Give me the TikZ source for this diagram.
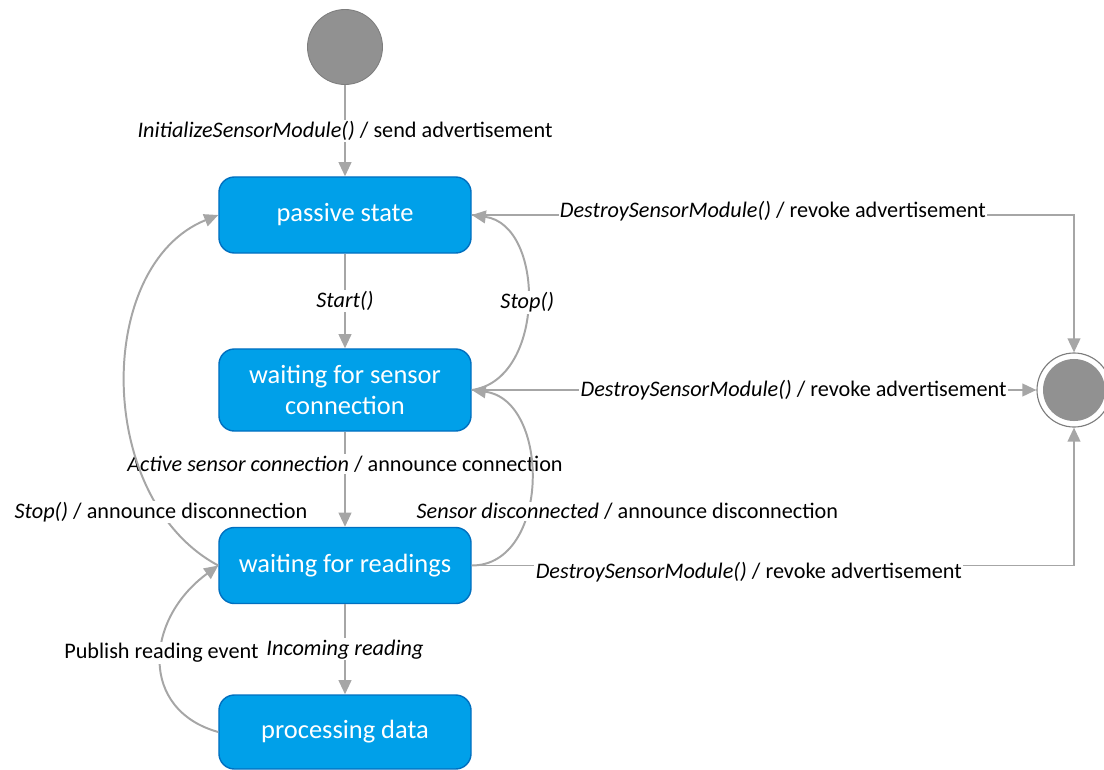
\documentclass[tikz,border=0pt]{standalone}
\usepackage{fontspec}
\setmainfont{Carlito}
\usetikzlibrary{arrows.meta,positioning,calc}
\definecolor{statefill}{RGB}{0,160,233}
\definecolor{stateline}{RGB}{0,112,192}
\definecolor{flowgray}{RGB}{166,166,166}
\definecolor{dotgray}{RGB}{145,145,145}
\definecolor{ringgray}{RGB}{125,125,125}

\begin{document}
\begin{tikzpicture}[x=0.025cm,y=-0.025cm,>={Triangle[length=10pt,width=9pt]},
 state/.style={draw=stateline,line width=1pt,fill=statefill,rounded corners=11pt,
   minimum width=6.3cm,minimum height=1.9cm,text=white,align=center,
   font=\fontsize{18.8}{21.5}\selectfont},
 flow/.style={draw=flowgray,line width=1.4pt,->},
 lbl/.style={fill=white,inner sep=1pt,font=\fontsize{15.8}{18}\selectfont},
 dot/.style={circle,fill=dotgray,draw=ringgray,line width=0.6pt}]
 \useasboundingbox (0,0) rectangle (1104,769);
 % states
 \node[dot,minimum size=1.875cm] (init) at (345,47) {};
 \node[state] (passive) at (345,215) {passive state};
 \node[state,minimum height=2.05cm] (sensor) at (345,390) {waiting for sensor\\connection};
 \node[state] (readings) at (345,565.5) {waiting for readings};
 \node[state,minimum height=1.85cm] (processing) at (345,732) {processing data};
 \node[circle,draw=ringgray,line width=0.8pt,minimum size=1.85cm] (final) at (1074,390) {};
 \node[dot,draw=none,minimum size=1.55cm] (finaldot) at (final) {};
 % transitions
 \draw[flow] (init) -- (passive) node[lbl,midway] {\textit{InitializeSensorModule()} / send advertisement};
 \draw[flow] (passive) -- (sensor) node[lbl,midway] {\textit{Start()}};
 \draw[flow] (sensor.east) .. controls +(74,-10) and +(74,10) .. (passive.east) node[lbl,midway] {\textit{Stop()}};
 \draw[flow] (passive.east) -| (final.north) node[lbl,pos=0.25,yshift=3pt] {\textit{DestroySensorModule()} / revoke advertisement};
 \draw[flow] (sensor) -- (final) node[lbl,pos=0.57] {\textit{DestroySensorModule()} / revoke advertisement};
 \draw[flow] (sensor) -- (readings) node[lbl,pos=0.34] {\textit{Active sensor connection} / announce connection};
 \draw[flow] (readings.east) .. controls +(79,0) and +(79,10) .. (sensor.east) node[lbl,pos=0.38,xshift=71pt] {\textit{Sensor disconnected} / announce disconnection};
 \draw[flow] (readings.west) .. controls +(-124,-66) and +(-124,50) .. (passive.west) node[lbl,pos=0.19] {\textit{Stop()} / announce disconnection};
 \draw[flow] (readings.east) -| (final.south) node[lbl,pos=0.23,yshift=-5pt] {\textit{DestroySensorModule()} / revoke advertisement};
 \draw[flow] (readings) -- (processing) node[lbl,midway] {\textit{Incoming reading}};
 \draw[flow] (processing.west) .. controls +(-79,-22) and +(-74,54) .. (readings.west) node[lbl,pos=0.54] {Publish reading event};
\end{tikzpicture}
\end{document}
